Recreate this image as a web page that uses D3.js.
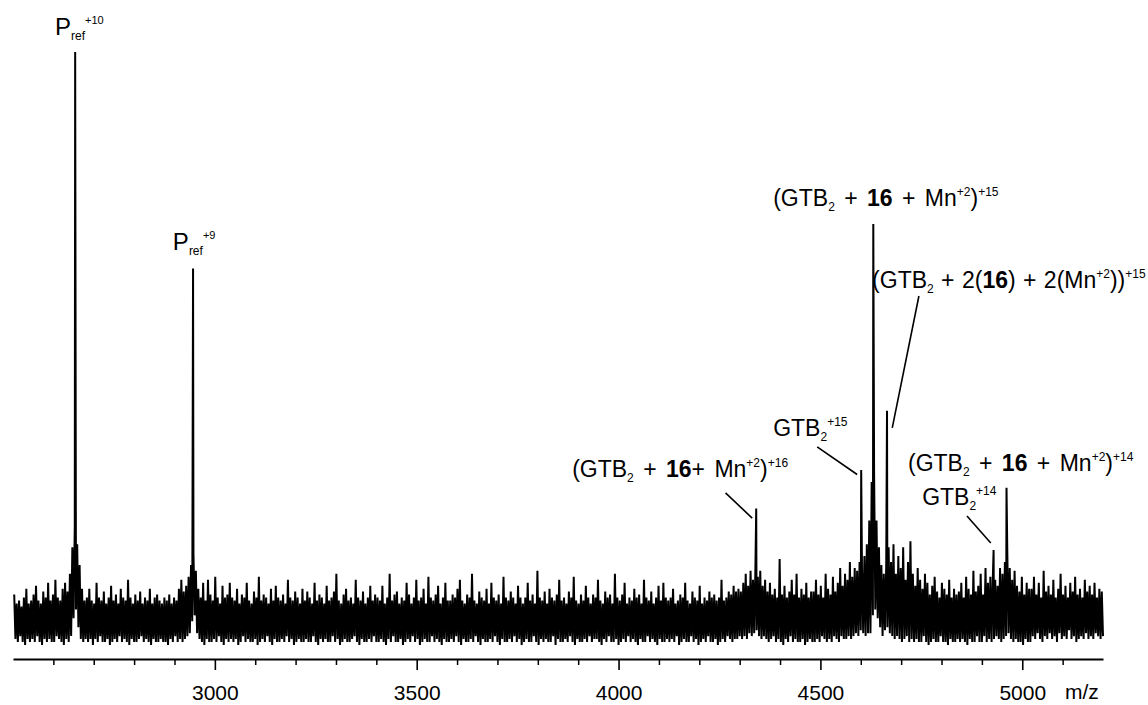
<!DOCTYPE html>
<html>
<head>
<meta charset="utf-8">
<script src="https://cdn.jsdelivr.net/npm/d3@7"></script>
<style>
  html, body { margin: 0; padding: 0; background: #fff; }
  svg { display: block; }
  text { font-family: "Liberation Sans", Arial, sans-serif; fill: #000; }
</style>
</head>
<body>
<svg id="chart" width="1148" height="705"></svg>
<script>
// ---- spectrum data (m/z vs. relative intensity) ----
// Detector trace sampled on a 6-unit m/z grid starting at 2503:
// local maxima (noiseHigh) and the minima that follow them (noiseLow).
const noiseHigh = [
  17,14,15,13,16,19,14,15,17,20,15,14,18,16,21,15,17,22,16,15,19,21,18,24,33,40,34,27,19,15,
  16,19,15,14,21,16,15,18,14,16,20,15,17,14,19,16,15,22,16,14,17,15,18,14,16,15,19,14,16,17,
  15,14,16,15,17,14,16,15,19,22,18,20,23,27,31,25,19,16,21,15,22,17,15,23,16,14,20,16,17,21,
  16,15,19,14,17,16,21,15,14,18,16,23,15,17,16,14,19,15,20,16,15,17,14,22,16,15,18,16,14,19,
  15,18,16,14,21,15,17,16,14,20,15,16,18,24,15,14,17,19,15,16,14,22,16,15,18,14,16,20,15,17,
  16,15,20,14,16,24,15,17,18,14,16,15,21,17,14,16,22,15,16,19,14,23,16,15,17,20,14,16,21,15,
  15,17,16,19,22,15,14,17,16,24,15,14,18,16,15,19,14,21,16,15,17,14,23,16,15,18,16,14,20,16,
  14,16,21,15,17,14,25,16,15,18,14,19,16,15,17,22,15,16,14,18,16,23,15,14,17,15,20,16,14,17,
  16,22,15,14,18,16,17,14,24,16,15,17,21,14,16,15,19,16,17,14,22,16,15,18,14,16,20,15,21,16,
  15,16,19,14,15,17,16,21,15,14,18,16,15,20,14,16,15,18,16,17,15,16,22,15,16,18,17,20,18,19,
  18,21,24,20,25,22,26,23,25,20,22,18,21,17,19,16,29,17,20,16,18,22,17,24,16,19,17,21,16,18,
  18,22,17,20,16,24,19,17,23,18,21,26,20,24,22,28,23,26,25,28,26,30,34,42,55,58,42,33,27,24,
  27,33,28,34,24,30,26,33,22,28,35,24,20,26,22,19,24,21,17,20,23,18,16,21,19,17,22,16,19,17,
  18,21,16,23,19,17,25,18,20,24,17,26,21,23,22,22,20,26,24,28,31,26,22,25,20,18,23,17,21,19,
  19,23,17,21,16,25,18,20,17,22,16,19,24,17,20,16,21,18,23,17,19,16,22,18,20,17,21,16,19,18
];
const noiseLow = [
  2,1,3,1,0,2,1,2,1,3,1,0,2,1,2,1,1,3,2,1,0,2,1,3,9,12,6,2,1,2,
  1,2,0,2,1,3,1,1,2,0,1,2,1,3,1,2,1,0,2,1,1,2,3,1,2,1,0,2,1,1,
  2,1,1,0,2,1,3,1,2,1,2,3,4,8,10,4,2,1,0,2,1,1,2,1,3,1,0,2,1,2,
  1,2,0,1,3,1,2,1,1,2,0,1,2,1,3,1,0,2,1,1,2,1,3,1,2,0,1,2,1,1,
  2,1,1,3,1,0,2,1,2,1,1,3,1,2,0,1,2,1,1,2,3,1,0,2,1,1,2,1,3,1,
  1,2,1,0,2,1,3,1,1,2,0,1,2,1,3,1,2,0,1,2,1,1,3,1,2,1,0,2,1,1,
  2,1,3,1,0,2,1,1,2,1,3,1,0,2,1,1,2,1,3,1,0,2,1,1,2,1,3,1,2,0,
  1,2,1,1,3,1,0,2,1,2,1,1,3,0,2,1,1,2,1,3,1,0,2,1,1,2,1,3,1,2,
  2,1,0,2,1,3,1,1,2,0,1,2,1,3,1,2,1,0,2,1,1,3,1,2,1,0,2,1,1,2,
  1,2,1,3,0,1,2,1,1,3,1,2,0,1,2,1,3,1,1,2,0,1,2,1,3,2,1,2,2,3,
  2,3,2,4,3,4,5,3,2,3,2,1,2,3,1,2,1,0,2,1,3,1,2,1,1,2,0,1,2,1,
  1,2,1,3,2,1,2,1,3,2,1,3,2,2,3,2,3,4,3,5,4,3,4,4,10,12,9,6,3,5,
  6,4,3,2,3,2,1,2,3,1,2,1,2,1,1,3,1,0,1,2,1,1,3,1,1,0,2,1,1,2,
  1,2,1,0,2,1,1,3,1,1,3,1,2,1,2,3,2,1,2,3,4,2,1,2,1,1,0,2,1,1,
  3,2,4,2,1,3,2,4,2,3,1,4,2,3,2,5,2,3,1,2,3,2,4,2,3,2,4,3,2,3
];
const gridStart = 2503;
const gridStep = 6;

// Resolved peaks: apex m/z and intensity.
const peakMz        = [2654, 2946, 4341, 4601, 4631, 4665, 4929, 4961];
const peakIntensity = [200,  127,  46,   59,   142,  79,   32,   53];

// Axis ticks
const majorTicks = [3000, 3500, 4000, 4500, 5000];
const minorTicks = [2600, 2700, 2800, 2900, 3100, 3200, 3300, 3400, 3600, 3700, 3800, 3900,
                    4100, 4200, 4300, 4400, 4600, 4700, 4800, 4900, 5100];
const axisTitle = "m/z";

// Peak assignments: _{} subscript, ^{} superscript, *...* bold
const labelTexts = [
  "P_{ref}^{+10}",
  "P_{ref}^{+9}",
  "(GTB_{2} + *16* + Mn^{+2})^{+15}",
  "(GTB_{2} + 2(*16*) + 2(Mn^{+2}))^{+15}",
  "GTB_{2}^{+15}",
  "(GTB_{2} + *16*+ Mn^{+2})^{+16}",
  "(GTB_{2} + *16* + Mn^{+2})^{+14}",
  "GTB_{2}^{+14}"
];

// ---- layout ----
const W = 1148, H = 705;
const svg = d3.select("#chart");
svg.append("rect").attr("width", W).attr("height", H).attr("fill", "#fff");

const x = d3.scaleLinear().domain([2500, 5200]).range([13, 1103]);
const y = d3.scaleLinear().domain([0, 200]).range([645, 52]);
const axisY = 659;

// Label anchors (text start, baseline) and leader lines, in data units
const small = { size: 23, sub: 12, sup: 12, subDy: 5, supDy: -10, ws: 3 };
const labelLayout = [
  { mz: 2604, v: 205.7, size: 24, sub: 12, sup: 11, subDy: 5, supDy: -11, ws: 0 },
  { mz: 2896, v: 133.2, size: 24, sub: 12, sup: 11, subDy: 5, supDy: -11, ws: 0 },
  { ...small, mz: 4383, v: 148.0 },
  { ...small, mz: 4628, v: 120.4, ws: 1, leader: [4744, 117.7, 4678, 73.2] },
  { ...small, mz: 4383, v: 70.5, leader: [4492, 66.8, 4591, 57.5] },
  { ...small, mz: 3885, v: 56.7, leader: [4265, 51.3, 4331, 42.8] },
  { ...small, mz: 4717, v: 58.7 },
  { ...small, mz: 4752, v: 47.2, leader: [4863, 43.5, 4922, 34.4] }
];

// ---- build the trace: noise extrema + peak apexes, ordered by m/z ----
const trace = [];
noiseHigh.forEach((v, i) => trace.push({ mz: gridStart + i * gridStep, v }));
noiseLow.forEach((v, i) => trace.push({ mz: gridStart + i * gridStep + gridStep / 2, v }));
peakMz.forEach((mz, i) => trace.push({ mz, v: peakIntensity[i] }));
trace.sort((a, b) => a.mz - b.mz);

const line = d3.line().x(d => x(d.mz)).y(d => y(d.v));
svg.append("path")
  .datum(trace)
  .attr("d", line)
  .attr("fill", "none")
  .attr("stroke", "#000")
  .attr("stroke-width", 2)
  .attr("stroke-linejoin", "miter")
  .attr("stroke-miterlimit", 4);

// ---- x axis ----
const gAxis = svg.append("g").attr("transform", `translate(0,${axisY})`);
gAxis.call(
  d3.axisBottom(x).tickValues(majorTicks).tickSize(11).tickSizeOuter(0)
    .tickPadding(15).tickFormat(d3.format("d"))
);
gAxis.select(".domain").attr("stroke-width", 2);
gAxis.selectAll(".tick line").attr("stroke-width", 1.6);
gAxis.selectAll(".tick text")
  .attr("font-family", "Liberation Sans, Arial, sans-serif")
  .attr("font-size", 21);

const gMinor = svg.append("g").attr("transform", `translate(0,${axisY})`);
gMinor.call(d3.axisBottom(x).tickValues(minorTicks).tickSize(6).tickSizeOuter(0).tickFormat(""));
gMinor.select(".domain").remove();
gMinor.selectAll(".tick line").attr("stroke-width", 1.5);

svg.append("text")
  .attr("x", x(5200) - 38)
  .attr("y", axisY + 40)
  .attr("font-size", 21)
  .text(axisTitle);

// ---- annotations ----
function parseLabel(str) {
  const parts = [];
  const re = /_\{([^}]*)\}|\^\{([^}]*)\}|\*([^*]*)\*|([^_^*]+)/g;
  let m;
  while ((m = re.exec(str)) !== null) {
    if (m[1] !== undefined) parts.push({ t: m[1], kind: "sub" });
    else if (m[2] !== undefined) parts.push({ t: m[2], kind: "sup" });
    else if (m[3] !== undefined) parts.push({ t: m[3], kind: "bold" });
    else parts.push({ t: m[4], kind: "normal" });
  }
  return parts;
}

labelTexts.forEach((str, i) => {
  const L = labelLayout[i];
  const t = svg.append("text")
    .attr("x", x(L.mz))
    .attr("y", y(L.v))
    .attr("font-size", L.size)
    .attr("word-spacing", L.ws)
    .attr("xml:space", "preserve")
    .style("white-space", "pre");
  let offset = 0;
  parseLabel(str).forEach(p => {
    let target = 0, size = L.size, weight = "normal";
    if (p.kind === "sub") { target = L.subDy; size = L.sub; }
    if (p.kind === "sup") { target = L.supDy; size = L.sup; }
    if (p.kind === "bold") weight = "bold";
    t.append("tspan")
      .attr("dy", target - offset)
      .attr("font-size", size)
      .attr("font-weight", weight)
      .text(p.t);
    offset = target;
  });

  if (L.leader) {
    const [m1, v1, m2, v2] = L.leader;
    svg.append("line")
      .attr("x1", x(m1)).attr("y1", y(v1))
      .attr("x2", x(m2)).attr("y2", y(v2))
      .attr("stroke", "#000")
      .attr("stroke-width", 1.6);
  }
});
</script>
</body>
</html>
